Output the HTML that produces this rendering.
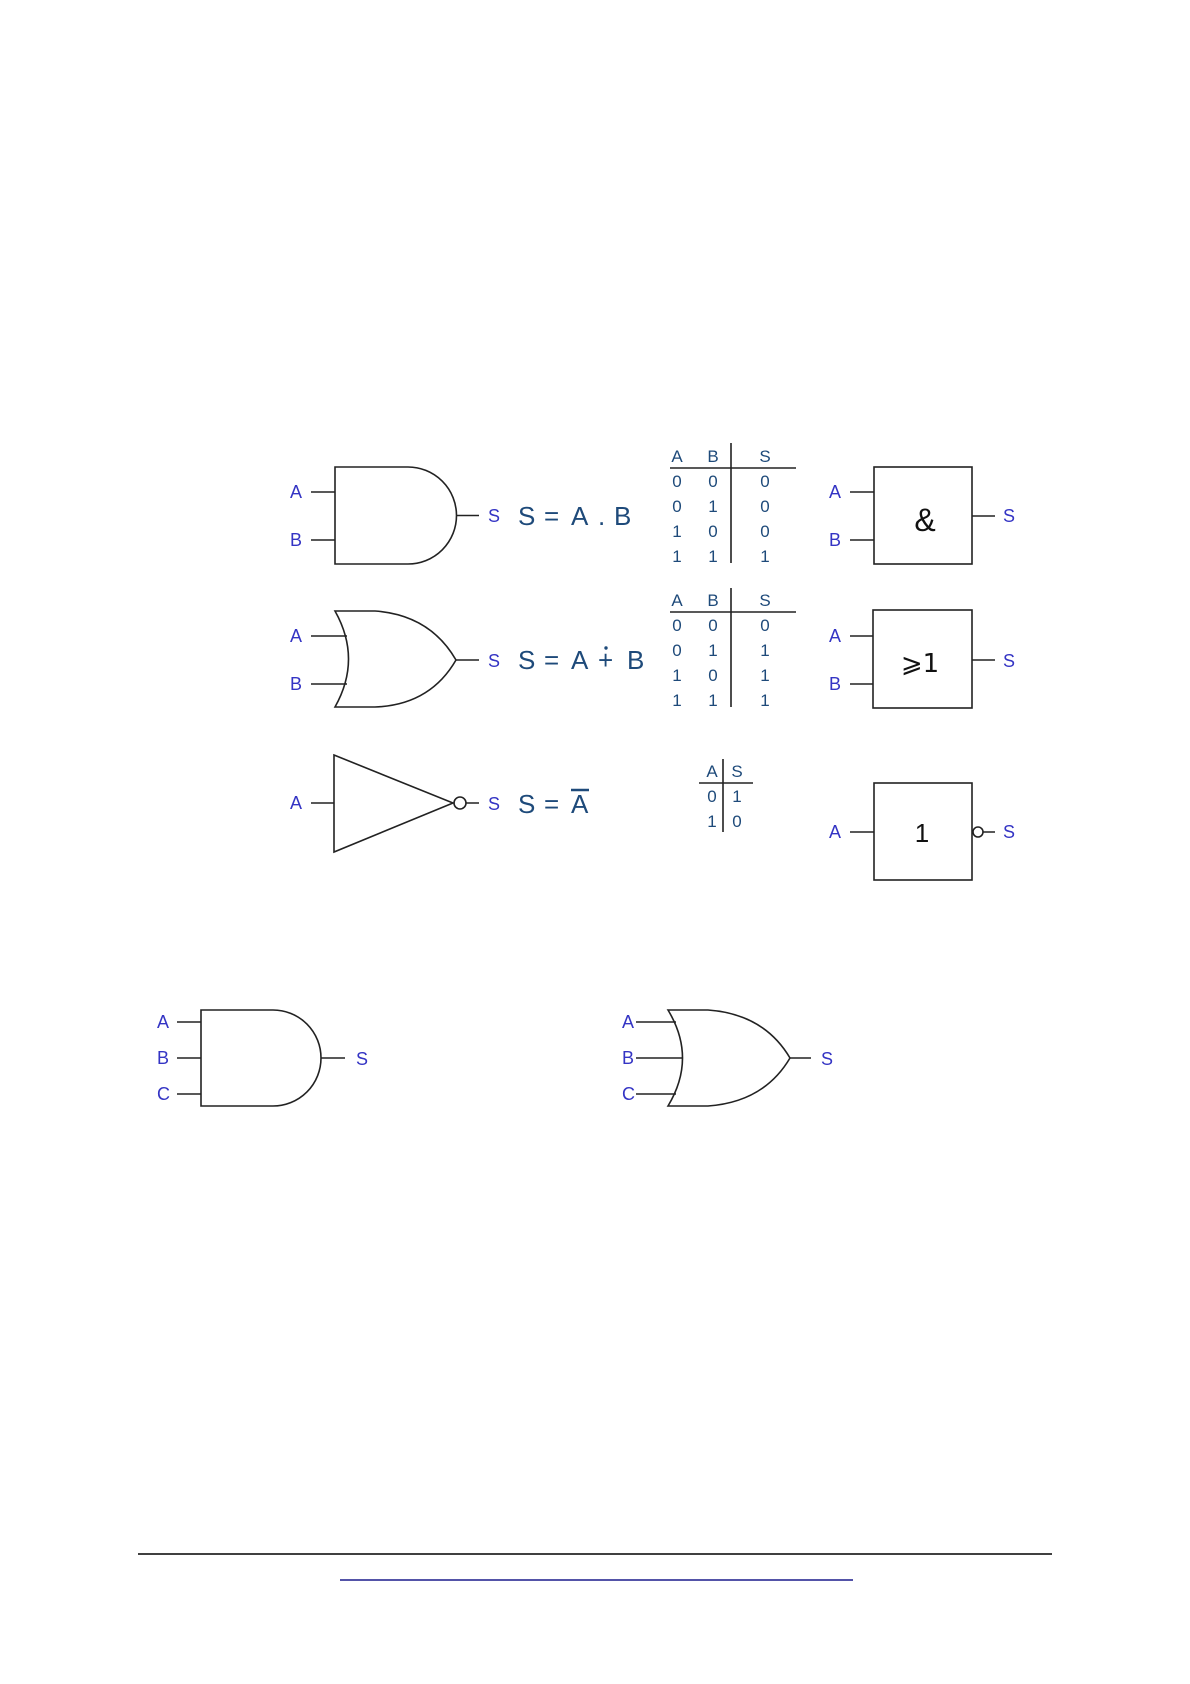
<!DOCTYPE html>
<html><head><meta charset="utf-8"><style>
html,body{margin:0;padding:0;background:#fff;}
svg{display:block;}
.l{font-family:"Liberation Sans",sans-serif;font-size:18px;fill:#3434c4;}
.e{font-family:"Liberation Sans",sans-serif;font-size:26px;fill:#1e4a7a;}
.t{font-family:"Liberation Sans",sans-serif;font-size:17px;fill:#1e4a7a;text-anchor:middle;}
.g{stroke:#222;stroke-width:1.6;fill:none;}
</style></head><body>
<svg width="1190" height="1684" viewBox="0 0 1190 1684" xmlns="http://www.w3.org/2000/svg">
<!-- AND -->
<path class="g" d="M335 467 H408 A48.5 48.5 0 0 1 408 564 H335 Z"/>
<path class="g" d="M311 492H335M311 540H335M456 515.5H479"/>
<text class="l" x="290" y="498">A</text><text class="l" x="290" y="546">B</text><text class="l" x="488" y="522">S</text>
<g class="e"><text x="518" y="525">S</text><text x="544" y="525">=</text><text x="571" y="525">A</text><text x="598" y="525">.</text><text x="614" y="525">B</text></g>
<!-- table 1 -->
<path class="g" d="M731 443V563M670 468H796" stroke-width="1.3"/>
<g class="t"><text x="677" y="462">A</text><text x="713" y="462">B</text><text x="765" y="462">S</text>
<text x="677" y="487">0</text><text x="713" y="487">0</text><text x="765" y="487">0</text>
<text x="677" y="512">0</text><text x="713" y="512">1</text><text x="765" y="512">0</text>
<text x="677" y="537">1</text><text x="713" y="537">0</text><text x="765" y="537">0</text>
<text x="677" y="562">1</text><text x="713" y="562">1</text><text x="765" y="562">1</text></g>
<!-- OR -->
<path class="g" d="M335 611 H375 Q430 615 456 660 Q430 705 375 707 H335 Q362 659 335 611 Z"/>
<path class="g" d="M311 636H347M311 684H347M456 660H479"/>
<text class="l" x="290" y="642">A</text><text class="l" x="290" y="690">B</text><text class="l" x="488" y="667">S</text>
<g class="e"><text x="518" y="669">S</text><text x="544" y="669">=</text><text x="571" y="669">A</text><text x="598" y="669">+</text><text x="627" y="669">B</text></g>
<circle cx="606" cy="648" r="1.7" fill="#1e4a7a"/>
<path class="g" d="M731 588V707M670 612H796" stroke-width="1.3"/>
<g class="t"><text x="677" y="606">A</text><text x="713" y="606">B</text><text x="765" y="606">S</text>
<text x="677" y="631">0</text><text x="713" y="631">0</text><text x="765" y="631">0</text>
<text x="677" y="656">0</text><text x="713" y="656">1</text><text x="765" y="656">1</text>
<text x="677" y="681">1</text><text x="713" y="681">0</text><text x="765" y="681">1</text>
<text x="677" y="706">1</text><text x="713" y="706">1</text><text x="765" y="706">1</text></g>
<!-- NOT -->
<path class="g" d="M334 755 L453 803 L334 852 Z"/>
<circle class="g" cx="460" cy="803" r="6"/>
<path class="g" d="M311 803H334M466 803H479"/>
<text class="l" x="290" y="809">A</text><text class="l" x="488" y="810">S</text>
<g class="e"><text x="518" y="813">S</text><text x="544" y="813">=</text><text x="571" y="813">A</text></g>
<path d="M571 790H589" stroke="#1e4a7a" stroke-width="2.5"/>
<path class="g" d="M723 759V832M699 783H753" stroke-width="1.3"/>
<g class="t"><text x="712" y="777">A</text><text x="737" y="777">S</text>
<text x="712" y="802">0</text><text x="737" y="802">1</text>
<text x="712" y="827">1</text><text x="737" y="827">0</text></g>
<!-- boxes -->
<rect class="g" x="874" y="467" width="98" height="97"/>
<path class="g" d="M850 492H874M850 540H874M972 516H995"/>
<text class="l" x="829" y="498">A</text><text class="l" x="829" y="546">B</text><text class="l" x="1003" y="522">S</text>
<text x="925" y="531" text-anchor="middle" font-family="Liberation Sans,sans-serif" font-size="32" fill="#111">&amp;</text>
<rect class="g" x="873" y="610" width="99" height="98"/>
<path class="g" d="M850 636H873M850 684H873M972 660H995"/>
<text class="l" x="829" y="642">A</text><text class="l" x="829" y="690">B</text><text class="l" x="1003" y="667">S</text>
<text x="920" y="672" text-anchor="middle" font-family="DejaVu Sans,sans-serif" font-size="26" fill="#111">⩾1</text>
<rect class="g" x="874" y="783" width="98" height="97"/>
<circle class="g" cx="978" cy="832" r="5"/>
<path class="g" d="M850 832H874M983 832H995"/>
<text class="l" x="829" y="838">A</text><text class="l" x="1003" y="838">S</text>
<text x="922" y="842" text-anchor="middle" font-family="Liberation Sans,sans-serif" font-size="26" fill="#111">1</text>
<!-- 3-input AND -->
<path class="g" d="M201 1010 H273 A48 48 0 0 1 273 1106 H201 Z"/>
<path class="g" d="M177 1022H201M177 1058H201M177 1094H201M321 1058H345"/>
<text class="l" x="157" y="1028">A</text><text class="l" x="157" y="1064">B</text><text class="l" x="157" y="1100">C</text><text class="l" x="356" y="1065">S</text>
<!-- 3-input OR -->
<path class="g" d="M668 1010 H708 Q764 1014 790 1058 Q764 1102 708 1106 H668 Q697 1058 668 1010 Z"/>
<path class="g" d="M636 1022H676M636 1058H683M636 1094H676M790 1058H811"/>
<text class="l" x="622" y="1028">A</text><text class="l" x="622" y="1064">B</text><text class="l" x="622" y="1100">C</text><text class="l" x="821" y="1065">S</text>
<!-- footer -->
<path d="M138 1554H1052" stroke="#000" stroke-width="1.6"/>
<path d="M340 1580H853" stroke="#1a1a8c" stroke-width="1.6"/>
</svg>
</body></html>
